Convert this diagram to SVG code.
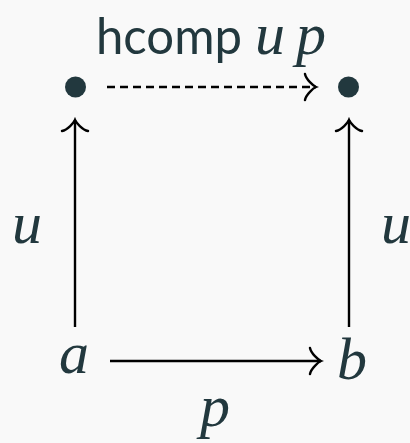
<svg xmlns="http://www.w3.org/2000/svg" width="410" height="443" viewBox="0 0 410 443">
  <style>
    .bg { fill: #f9f9f9; }
    .math { font-family: "Liberation Serif", "Times New Roman", serif; font-style: italic; font-size: 60px; fill: #22383e; }
    .txt { font-family: Lato, "Noto Sans", sans-serif; font-size: 51px; fill: #22383e; }
    .dot { fill: #22383e; }
    .edge { stroke: #000; stroke-width: 2.4; fill: none; }
    .dash { stroke-dasharray: 8 5; }
    .head { stroke: #000; stroke-width: 2.4; fill: none; stroke-linecap: round; }
  </style>
  <defs>
    <marker id="to" viewBox="-14 -15 17 30" refX="0" refY="0" markerWidth="17" markerHeight="30" markerUnits="userSpaceOnUse" orient="auto">
      <path class="head" d="M -11,-13 C -10,-7.5 -2.5,-1 0,0 C -2.5,1 -10,7.5 -11,13"/>
    </marker>
  </defs>
  <rect class="bg" x="0" y="0" width="410" height="443"/>

  <g id="connectors">
    <path id="e-top" class="edge dash" d="M 107,87 L 316,87" marker-end="url(#to)"/>
    <path id="e-left" class="edge" d="M 75,327 L 75,120" marker-end="url(#to)"/>
    <path id="e-right" class="edge" d="M 349,327 L 349,120" marker-end="url(#to)"/>
    <path id="e-bottom" class="edge" d="M 110,361 L 321,361" marker-end="url(#to)"/>
  </g>

  <g id="label-top">
    <text class="txt" x="96" y="54" textLength="146" lengthAdjust="spacingAndGlyphs">hcomp</text>
    <text class="math" x="255" y="54">u</text>
    <text class="math" x="296" y="54">p</text>
  </g>
  <g id="node-tl"><circle class="dot" cx="75.5" cy="87" r="10.5"/></g>
  <g id="node-tr"><circle class="dot" cx="348.5" cy="87" r="10.5"/></g>
  <g id="node-a"><text class="math" x="59" y="373">a</text></g>
  <g id="node-b"><text class="math" x="337" y="379">b</text></g>
  <g id="label-left"><text class="math" x="12" y="243">u</text></g>
  <g id="label-right"><text class="math" x="381" y="243">u</text></g>
  <g id="label-bottom"><text class="math" x="200" y="426">p</text></g>
</svg>
